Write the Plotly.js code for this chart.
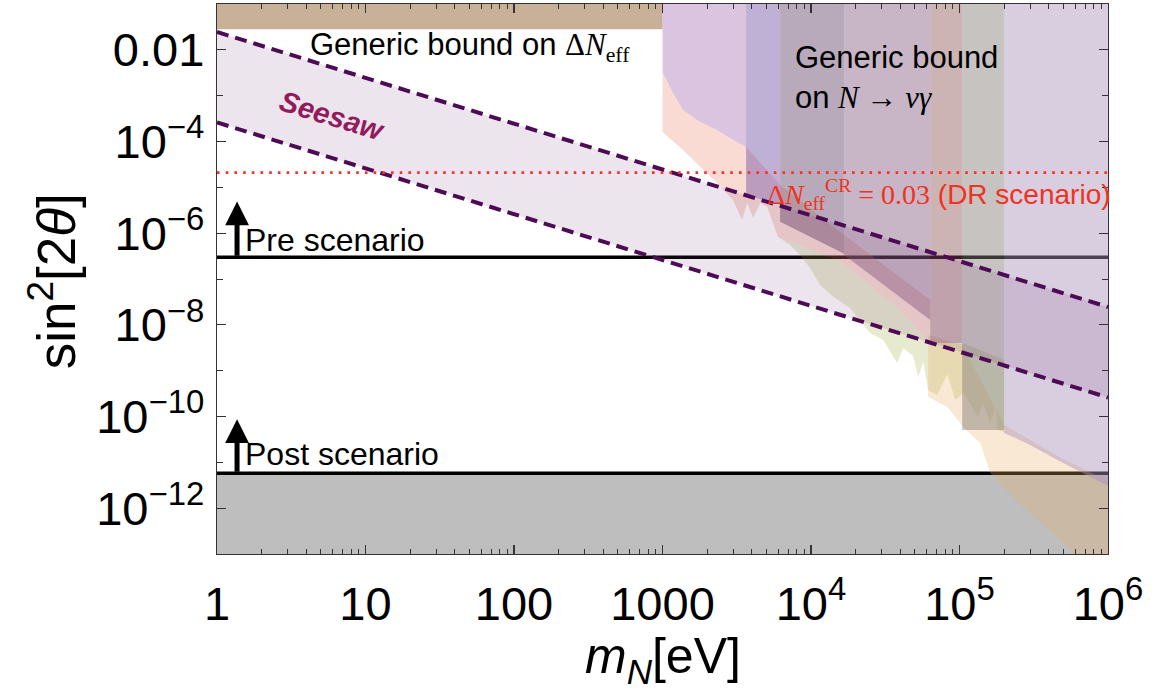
<!DOCTYPE html>
<html>
<head>
<meta charset="utf-8">
<script src="https://cdn.plot.ly/plotly-3.0.1.min.js"></script>
<style>html,body{margin:0;padding:0;background:#fff;}#plot{width:1156px;height:692px;}</style>
</head>
<body>
<div id="plot"></div>
<script>
// ---------------- data ----------------
// axis ticks
const xTickVals = [1, 10, 100, 1000, 1e4, 1e5, 1e6];
const xTickText = ['1', '10', '100', '1000', '10<sup>4</sup>', '10<sup>5</sup>', '10<sup>6</sup>'];
const yTickVals = [1e-2, 1e-4, 1e-6, 1e-8, 1e-10, 1e-12];
const yTickText = ['0.01', '10<sup>−4</sup>', '10<sup>−6</sup>', '10<sup>−8</sup>', '10<sup>−10</sup>', '10<sup>−12</sup>'];
const yMinorVals = [1e-3, 1e-5, 1e-7, 1e-9, 1e-11];

// horizontal reference levels (sin^2 2theta)
const preLevel = 2.97e-7;
const postLevel = 5.75e-12;
const drLevel = 2.09e-5;
const neffBoundLow = 0.0282;     // lower edge of generic Delta N_eff bound (m < 1 keV)
const neffBoundMaxM = 1000;

// seesaw band (two straight lines in log-log)
const seesawM = [1, 1e6];
const seesawUpper = [0.0245, 2.45e-8];
const seesawLower = [2.6e-4, 2.6e-10];

// N -> nu gamma generic bound: pieces (log10 m, log10 sin^2)
const band0LogM = [3.0, 3.563, 3.563, 3.475, 3.367, 3.253, 3.138, 3.071, 3.0];
const band0LogS = [-1, -1, -4.12, -3.967, -3.749, -3.575, -3.313, -2.942, -2.484];
const band1LogM = [3.563, 3.792, 3.792, 3.563];
const band1LogS = [-1, -1, -5.386, -5.168];
const band2LogM = [3.792, 4.223, 4.223, 3.792];
const band2LogS = [-1, -1, -6.45, -5.75];
const band3LogM = [4.223, 4.803, 4.803, 4.223];
const band3LogS = [-1, -1, -7.895, -6.477];
const band4LogM = [4.803, 5.018, 5.018, 4.803];
const band4LogS = [-1, -1, -8.397, -8.397];
const band5LogM = [5.018, 5.301, 5.301, 5.018];
const band5LogS = [-1, -1, -10.295, -10.295];
const band6LogM = [5.301, 6.0, 6.0, 5.685, 5.45, 5.301];
const band6LogS = [-1, -1, -11.517, -10.994, -10.579, -10.361];

// salmon region
const salmonLogM = [3.0, 3.071, 3.138, 3.253, 3.367, 3.475, 3.563, 3.792, 4.223, 4.803,
  4.803, 4.600, 4.398, 4.203, 3.926, 3.778, 3.705, 3.658, 3.611, 3.570, 3.536, 3.475, 3.367, 3.253, 3.138, 3.0];
const salmonLogS = [-2.484, -2.942, -3.313, -3.575, -3.749, -3.967, -4.12, -4.949, -6.04, -7.459,
  -8.397, -7.677, -7.131, -6.63, -6.259, -6.084, -5.429, -5.342, -5.669, -5.342, -5.713, -5.277, -4.906, -4.557, -4.186, -3.793];

// pale green jagged region
const greenLogM = [3.778, 3.926, 4.203, 4.398, 4.600, 4.803, 5.018, 5.301,
  5.301, 5.254, 5.241, 5.207, 5.160, 5.120, 5.073, 5.026, 4.972, 4.918, 4.850, 4.789, 4.756, 4.722, 4.688,
  4.621, 4.580, 4.533, 4.486, 4.398, 4.331, 4.263, 4.162, 4.061, 3.994, 3.926, 3.859, 3.778];
const greenLogS = [-6.084, -6.259, -6.63, -7.131, -7.677, -8.397, -8.397, -8.768,
  -10.339, -10.295, -9.794, -10.143, -9.728, -10.012, -9.728, -9.488, -9.641, -9.073, -9.532, -9.423, -8.811, -9.139, -8.681,
  -8.506, -8.833, -8.593, -8.332, -8.179, -7.895, -7.633, -7.415, -7.131, -6.761, -6.477, -6.259, -6.084];

// peach region
const peachLogM = [4.789, 5.018, 5.301, 5.450, 5.685, 6.0, 6.0, 5.767, 5.679, 5.524, 5.362, 5.207, 5.140, 5.026, 4.918, 4.789];
const peachLogS = [-8.222, -8.441, -10.186, -10.47, -10.906, -11.408, -13, -13, -12.696, -12.259, -11.757, -11.234, -10.579, -10.23, -9.794, -9.575];

// ---------------- helpers ----------------
const p10 = a => a.map(v => Math.pow(10, v));
const FONT = 'Liberation Sans, Arial, Helvetica, sans-serif';
const SERIF = 'Liberation Serif';

function poly(lm, ls, color) {
  return {type: 'scatter', mode: 'lines', x: p10(lm), y: p10(ls), fill: 'toself',
    fillcolor: color, line: {width: 0, color: 'rgba(0,0,0,0)'}, hoverinfo: 'skip', showlegend: false};
}
function hline(level, color, width, dash) {
  return {type: 'scatter', mode: 'lines', x: [1, 1e6], y: [level, level],
    line: {color: color, width: width, dash: dash}, hoverinfo: 'skip', showlegend: false};
}

const traces = [];
// excluded region below post scenario
traces.push({type: 'scatter', mode: 'lines', x: [1, 1e6, 1e6, 1], y: [1e-13, 1e-13, postLevel, postLevel],
  fill: 'toself', fillcolor: '#bebebe', line: {width: 0}, hoverinfo: 'skip', showlegend: false});
// generic Delta N_eff bound
traces.push({type: 'scatter', mode: 'lines', x: [1, neffBoundMaxM, neffBoundMaxM, 1], y: [neffBoundLow, neffBoundLow, 0.1, 0.1],
  fill: 'toself', fillcolor: '#c9b199', line: {width: 0}, hoverinfo: 'skip', showlegend: false});
// scenario lines
traces.push(hline(preLevel, '#000', 3.5, 'solid'));
traces.push(hline(postLevel, '#000', 3.5, 'solid'));
// constraint regions
traces.push(poly(salmonLogM, salmonLogS, 'rgba(234,126,98,0.28)'));
traces.push(poly(greenLogM, greenLogS, 'rgba(150,160,40,0.22)'));
traces.push(poly(peachLogM, peachLogS, 'rgba(230,173,101,0.28)'));
traces.push(poly(band0LogM, band0LogS, 'rgba(173,124,186,0.45)'));
traces.push(poly(band1LogM, band1LogS, 'rgba(113,79,164,0.45)'));
traces.push(poly(band2LogM, band2LogS, 'rgba(97,66,104,0.45)'));
traces.push(poly(band3LogM, band3LogS, 'rgba(133,91,126,0.45)'));
traces.push(poly(band4LogM, band4LogS, 'rgba(133,75,77,0.42)'));
traces.push(poly(band5LogM, band5LogS, 'rgba(128,122,117,0.45)'));
traces.push(poly(band6LogM, band6LogS, 'rgba(171,144,186,0.45)'));
// seesaw band
traces.push({type: 'scatter', mode: 'lines', x: [seesawM[0], seesawM[1], seesawM[1], seesawM[0]],
  y: [seesawUpper[0], seesawUpper[1], seesawLower[1], seesawLower[0]],
  fill: 'toself', fillcolor: 'rgba(100,40,110,0.12)', line: {width: 0}, hoverinfo: 'skip', showlegend: false});
traces.push({type: 'scatter', mode: 'lines', x: seesawM, y: seesawUpper,
  line: {color: '#4e0b55', width: 4, dash: '12px,7px'}, hoverinfo: 'skip', showlegend: false});
traces.push({type: 'scatter', mode: 'lines', x: seesawM, y: seesawLower,
  line: {color: '#4e0b55', width: 4, dash: '12px,7px'}, hoverinfo: 'skip', showlegend: false});
// DR scenario line
traces.push(hline(drLevel, '#ff2a2a', 2.8, '2.6px,6.1px'));

// minor x ticks (2..9 in each decade)
const xMinor = [];
for (let k = 0; k < 6; k++) for (let d = 2; d <= 9; d++) xMinor.push(d * Math.pow(10, k));

const axisCommon = {
  type: 'log', showline: true, linecolor: '#333', linewidth: 1.3, mirror: 'ticks',
  ticks: 'inside', ticklen: 9, tickwidth: 1.2, tickcolor: '#333', showgrid: false, zeroline: false,
  tickmode: 'array', tickfont: {family: FONT, size: 47, color: '#000'}
};

const layout = {
  width: 1156, height: 692,
  margin: {l: 217, r: 48, t: 4, b: 138, pad: 0},
  paper_bgcolor: '#fff', plot_bgcolor: '#fff',
  showlegend: false,
  font: {family: FONT, color: '#000'},
  xaxis: Object.assign({}, axisCommon, {range: [0, 6], tickvals: xTickVals, ticktext: xTickText, ticklabelstandoff: 8,
    minor: {tickmode: 'array', tickvals: xMinor, ticks: 'inside', ticklen: 5, tickwidth: 1, tickcolor: '#333'}}),
  yaxis: Object.assign({}, axisCommon, {range: [-13, -1], tickvals: yTickVals, ticktext: yTickText, ticklabelstandoff: 2,
    minor: {tickmode: 'array', tickvals: yMinorVals, ticks: 'inside', ticklen: 6, tickwidth: 1, tickcolor: '#333'}}),
  annotations: [
    {xref: 'x', yref: 'y', x: 0.611, y: -1.938, xanchor: 'left', yanchor: 'middle', showarrow: false,
      text: 'Generic bound on <span style="font-family:Liberation Serif">Δ<i>N</i><sub>eff</sub></span>',
      font: {family: FONT, size: 31, color: '#000'}},
    {xref: 'x', yref: 'y', x: 3.878, y: -2.604, xanchor: 'left', yanchor: 'middle', showarrow: false, align: 'left',
      text: 'Generic bound<br>on <span style="font-family:Liberation Serif"><i>N</i> → <i>νγ</i></span>',
      font: {family: FONT, size: 31, color: '#000'}},
    {xref: 'x', yref: 'y', x: 3.69, y: -5.16, xanchor: 'left', yanchor: 'middle', showarrow: false,
      text: '<span style="font-family:Liberation Serif">Δ<i>N</i><sub>eff</sub><sup>CR</sup> = 0.03</span> (DR scenario)',
      font: {family: FONT, size: 28, color: '#ee3322'}},
    {xref: 'x', yref: 'y', x: 0.78, y: -3.44, xanchor: 'center', yanchor: 'middle', showarrow: false, textangle: 17,
      text: '<b><i>Seesaw</i></b>', font: {family: FONT, size: 29, color: '#931b5d'}},
    {xref: 'x', yref: 'y', x: 0.173, y: -6.149, xanchor: 'left', yanchor: 'middle', showarrow: false,
      text: 'Pre scenario', font: {family: FONT, size: 32, color: '#000'}},
    {xref: 'x', yref: 'y', x: 0.173, y: -10.819, xanchor: 'left', yanchor: 'middle', showarrow: false,
      text: 'Post scenario', font: {family: FONT, size: 32, color: '#000'}},
    {xref: 'x', yref: 'y', axref: 'x', ayref: 'y', x: 0.135, y: -5.31, ax: 0.135, ay: -6.527,
      showarrow: true, arrowhead: 2, arrowsize: 0.95, arrowwidth: 5, arrowcolor: '#000', text: '', standoff: 0},
    {xref: 'x', yref: 'y', axref: 'x', ayref: 'y', x: 0.135, y: -10.06, ax: 0.135, ay: -11.24,
      showarrow: true, arrowhead: 2, arrowsize: 0.95, arrowwidth: 5, arrowcolor: '#000', text: '', standoff: 0},
    {xref: 'paper', yref: 'paper', x: 0.5, y: -0.192, xanchor: 'center', yanchor: 'middle', showarrow: false,
      text: '<i>m</i><sub><i>N</i></sub>[eV]', font: {family: FONT, size: 50, color: '#000'}},
    {xref: 'paper', yref: 'paper', x: -0.1845, y: 0.495, xanchor: 'center', yanchor: 'middle', showarrow: false, textangle: -90,
      text: 'sin<sup>2</sup>[2<i>θ</i>]', font: {family: FONT, size: 53, color: '#000'}}
  ]
};

Plotly.newPlot('plot', traces, layout, {displayModeBar: false, staticPlot: true});
</script>
</body>
</html>
